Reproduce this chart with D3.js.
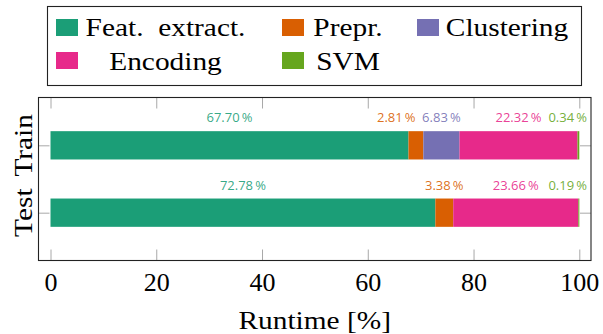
<!DOCTYPE html>
<html>
<head>
<meta charset="utf-8">
<script src="https://cdn.jsdelivr.net/npm/d3@7"></script>
<style>
  html, body { margin: 0; padding: 0; background: #fff; }
  svg { display: block; }
  .serif { font-family: "Liberation Serif", "DejaVu Serif", serif; }
  .sans { font-family: "Open Sans", "DejaVu Sans", sans-serif; }
</style>
</head>
<body>
<svg id="chart" width="603" height="334"></svg>
<script>
// ---- data ----
const rows = ["Train", "Test"];
const series = ["Feat. extract.", "Prepr.", "Clustering", "Encoding", "SVM"];
const trainValues = [67.70, 2.81, 6.83, 22.32, 0.34];
const testValues = [72.78, 3.38, 0, 23.66, 0.19];
const xTicks = [0, 20, 40, 60, 80, 100];
const colors = ["#1b9e77", "#d95f02", "#7570b3", "#e7298a", "#66a61e"];
const xLabel = "Runtime [%]";

const table = rows.map((r, i) => {
  const vals = i === 0 ? trainValues : testValues;
  const o = { row: r };
  series.forEach((s, j) => o[s] = vals[j]);
  return o;
});

// ---- layout ----
const svg = d3.select("#chart");
const plot = { left: 38.5, right: 591, top: 97.5, bottom: 260.5 };
const stretch = 1.13; // widen serif text toward Computer Modern proportions

const x = d3.scaleLinear().domain([0, 100]).range([50.5, 579.3]);
const y = d3.scalePoint().domain(rows).range([plot.top, plot.bottom]).padding(0.71);
const barH = 28.3;
const color = d3.scaleOrdinal().domain(series).range(colors);

function serifText(parent, str, tx, ty, rot) {
  return parent.append("text")
    .attr("class", "serif")
    .attr("transform", `translate(${tx},${ty})` + (rot ? ` rotate(${rot})` : "") + ` scale(${stretch},1)`)
    .attr("text-anchor", "middle")
    .attr("font-size", 26).attr("fill", "#000")
    .text(str);
}

// ---- bars ----
const stacked = d3.stack().keys(series)(table);
const g = svg.append("g");
stacked.forEach(layer => {
  g.selectAll(null).data(layer).join("rect")
    .attr("x", d => x(d[0]))
    .attr("width", d => Math.max(0, x(d[1]) - x(d[0])))
    .attr("y", d => y(d.data.row) - barH / 2)
    .attr("height", barH)
    .attr("fill", color(layer.key));
});

// ---- axes ----
const tickLen = 11;
const tickColor = "#a8a8a8";
function styleAxis(sel) {
  sel.select(".domain").remove();
  sel.attr("font-family", null);
  sel.selectAll(".tick line").attr("stroke", tickColor).attr("stroke-width", 1);
}
svg.append("g").attr("transform", `translate(0,${plot.bottom})`)
  .call(d3.axisBottom(x).tickValues(xTicks).tickSizeInner(-tickLen).tickSizeOuter(0).tickFormat(d3.format("d")))
  .call(styleAxis)
  .call(s => s.selectAll(".tick text")
    .attr("y", 30.5).attr("dy", null)
    .attr("class", "serif").attr("font-size", 26).attr("fill", "#000"));
svg.append("g").attr("transform", `translate(0,${plot.top})`)
  .call(d3.axisTop(x).tickValues(xTicks).tickSizeInner(-tickLen).tickSizeOuter(0).tickFormat(""))
  .call(styleAxis);
svg.append("g").attr("transform", `translate(${plot.left},0)`)
  .call(d3.axisLeft(y).tickSizeInner(-tickLen).tickSizeOuter(0).tickFormat(""))
  .call(styleAxis);
svg.append("g").attr("transform", `translate(${plot.right},0)`)
  .call(d3.axisRight(y).tickSizeInner(-tickLen).tickSizeOuter(0).tickFormat(""))
  .call(styleAxis);

// frame
svg.append("rect")
  .attr("x", plot.left).attr("y", plot.top)
  .attr("width", plot.right - plot.left).attr("height", plot.bottom - plot.top)
  .attr("fill", "none").attr("stroke", "#222").attr("stroke-width", 1.1);

// y labels (rotated)
rows.forEach(r => serifText(svg, r, 32, y(r), -90));

// x label
serifText(svg, xLabel, (plot.left + plot.right) / 2, 329);

// ---- value labels with simple overlap avoidance ----
const labelGap = 6.5;
const labelRightLimit = plot.right - 4;
table.forEach(rowObj => {
  const items = [];
  let acc = 0;
  series.forEach(s => {
    const v = rowObj[s];
    if (v > 0) {
      const t = svg.append("text")
        .attr("class", "sans")
        .attr("y", y(rowObj.row) - barH / 2 - 9)
        .attr("text-anchor", "middle")
        .attr("font-size", 13)
        .attr("fill", color(s)).attr("fill-opacity", 0.9)
        .text(v.toFixed(2) + "\u2009%");
      const w = t.node().getComputedTextLength();
      items.push({ t, w, c: x(acc + v / 2) });
    }
    acc += v;
  });
  for (let i = items.length - 1; i >= 0; i--) {
    const it = items[i];
    if (it.c + it.w / 2 > labelRightLimit) it.c = labelRightLimit - it.w / 2;
    if (i < items.length - 1) {
      const nx = items[i + 1];
      const leftOfNext = nx.c - nx.w / 2;
      if (it.c + it.w / 2 + labelGap > leftOfNext) it.c = leftOfNext - labelGap - it.w / 2;
    }
  }
  items.forEach(it => it.t.attr("x", it.c));
});

// ---- legend ----
const legend = svg.append("g");
legend.append("rect")
  .attr("x", 47.5).attr("y", 6.5).attr("width", 534).attr("height", 79)
  .attr("fill", "#fff").attr("stroke", "#222").attr("stroke-width", 1.1);
const colSwatchX = [56, 282, 417];
const colTextCenter = [165.5, 348, 507];
const rowSwatchY = [19, 52];
const rowBaseline = [36, 70];
series.forEach((s, i) => {
  const col = i % 3, row = Math.floor(i / 3);
  legend.append("rect")
    .attr("x", colSwatchX[col]).attr("y", rowSwatchY[row])
    .attr("width", 22).attr("height", 17)
    .attr("fill", color(s));
  serifText(legend, s.replace(". ", ".\u2002"), colTextCenter[col], rowBaseline[row]);
});
</script>
</body>
</html>
